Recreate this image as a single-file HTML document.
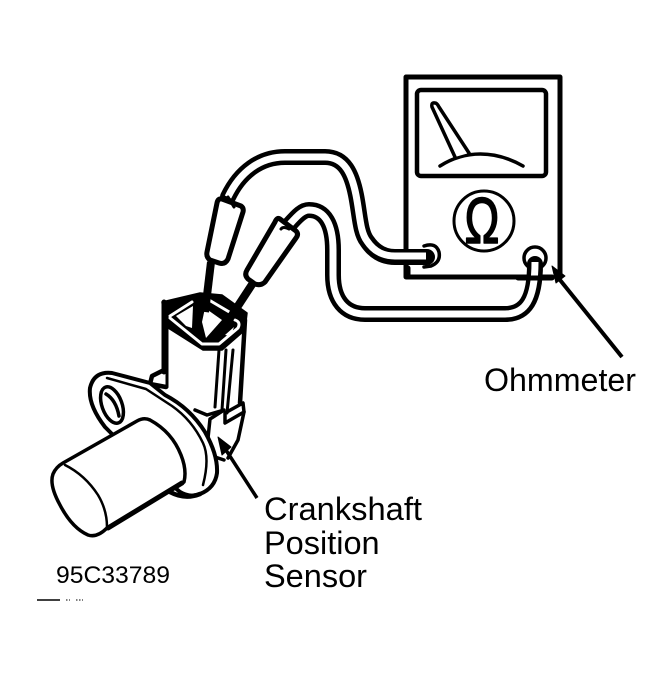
<!DOCTYPE html>
<html>
<head>
<meta charset="utf-8">
<style>
html,body{margin:0;padding:0;background:#fff;width:672px;height:676px;overflow:hidden}
svg{display:block}
text{font-family:"Liberation Sans",sans-serif;fill:#000}
</style>
</head>
<body>
<svg width="672" height="676" viewBox="0 0 672 676" xmlns="http://www.w3.org/2000/svg" fill="none" stroke="#000" stroke-linecap="round" stroke-linejoin="round">
  <!-- Meter -->
  <path d="M552 277H406V77H560V273" stroke-width="5"/>
  <rect x="417" y="90" width="129" height="86" rx="4" stroke-width="4.5"/>
  <path d="M440 166C465 150 495 150 523 166" stroke-width="3.5"/>
  <path d="M455 157L432 107Q431 102 435 103Q437 103 439 107L469 153" stroke-width="3.5" fill="#fff"/>
  <circle cx="484" cy="221" r="30" stroke-width="3"/>
  <text transform="translate(482 243) scale(.72 1)" x="0" y="0" font-size="65" text-anchor="middle" stroke="#000" stroke-width="1.6">Ω</text>

  <!-- Terminals (drawn below wires) -->
  <path d="M424 246Q436 242 439 252Q441 262 431 266L424 267" fill="#fff" stroke-width="3.5"/>
  <circle cx="535" cy="258" r="11" fill="#fff" stroke-width="3.5"/>

  <!-- Wire 1 -->
  <path d="M228 197C240 172 260 157 285 157H325C345 157 352 175 356 195C360 215 360 232 367 241C375 253 385 257 395 257H427" stroke-width="16"/>
  <path d="M228 197C240 172 260 157 285 157H325C345 157 352 175 356 195C360 215 360 232 367 241C375 253 385 256 395 256H426" stroke="#fff" stroke-width="7" stroke-linecap="butt"/>
  <!-- Wire 2 -->
  <path d="M290 224C298 215 303 210 309 210C325 210 333 225 333 250V275C333 300 345 314 365 314H505C525 314 535 300 535 264" stroke-width="16"/>
  <path d="M290 224C298 215 303 210 309 210C325 210 333 225 333 250V275C333 300 345 314 365 314H505C525 314 535 300 535 262" stroke="#fff" stroke-width="7" stroke-linecap="butt"/>
  <path d="M408 277V268" stroke-width="5"/>
  <path d="M518 278H552" stroke-width="5"/>

  <!-- Sensor body -->
  <path d="M162 302L200 292L222 295L247 313L243 413L240 437L226 458L197 423L163 395Z" fill="#fff" stroke="none"/>
  <path d="M164 372V302" stroke-width="5"/>
  <path d="M164 370L152 376L150 384L166 387" stroke-width="4.5"/>
  <path d="M167 327V387" stroke-width="3"/>

  <!-- Ribs and clip -->
  <path d="M219 350L215 407M226 350L222 410M233 350L227 413" stroke-width="3"/>
  <path d="M245 320L240 403" stroke-width="4.5"/>
  <path d="M195 410L207 415L224 410L210 419L208 438L215 457L224 460" stroke-width="3.5"/>
  <path d="M225 413L243 403L244 412L225 423Z" stroke-width="3.5"/>
  <path d="M244 412L238 440L228 458" stroke-width="3.5"/>

  <!-- Connector mouth -->
  <path d="M162 302L200 293L222 295L247 313L245 330L222 350L203 350L165 326Z" fill="#000" stroke="#000" stroke-width="1.5"/>
  <g stroke="#fff" stroke-width="3">
    <path d="M170 316L192 302"/>
    <path d="M170 318L202 344H219L238 328Q241 322 235 320"/>
    <path d="M209 300L231 313"/>
  </g>
  <g fill="#fff" stroke="none">
    <path d="M176 316L193 306L192 328L186 326Z"/>
    <path d="M205 308L222 320L206 338L202 322Z"/>
    <path d="M225 335L234 327L231 336Z"/>
  </g>

  <!-- Flange -->
  <path d="M150 383L112 373Q94 371 90 388Q88 405 105 427L112 434L180 492Q190 498 200 494Q215 488 217 473Q218 455 205 432Q190 408 165 395Z" fill="#fff" stroke-width="4"/>
  <path d="M107 378L146 389L172 406Q192 420 203 443Q210 458 203 485" stroke-width="2.5"/>
  <ellipse cx="112" cy="405" rx="10" ry="19" transform="rotate(-20 112 405)" fill="#fff" stroke-width="3.5"/>
  <path d="M106 394Q116 400 119 416" stroke-width="3.5"/>

  <!-- Cylinder -->
  <path d="M63 463L137 421Q144 417 150 420Q172 432 181 455Q187 470 184 482L107 528Q97 538 88 535Q72 528 60 505Q49 485 53 474Q56 467 63 463Z" fill="#fff" stroke-width="3.5"/>
  <path d="M65 465Q85 475 98 495Q107 510 107 527" stroke-width="2.5"/>
  <path d="M108 528L182 483" stroke-width="5"/>
  <path d="M170 492Q185 500 200 494" stroke-width="4.5"/>

  <!-- Probes -->
  <path d="M211 262L205 312" stroke-width="8" stroke-linecap="butt"/>
  <path d="M253 283L217 338" stroke-width="8" stroke-linecap="butt"/>
  <path d="M222 199L241 206Q244 208 243 212L228 259Q225 265 219 263L210 260Q206 257 207 252L217 203Q218 198 222 199Z" fill="#fff" stroke-width="5"/>
  <path d="M280 219L296 231Q299 234 296 238L265 282Q261 286 255 284L248 279Q244 275 247 270L275 222Q277 217 280 219Z" fill="#fff" stroke-width="5"/>
  <path d="M228 197L234 207M289 229Q283 226 281 229" stroke-width="3"/>

  <!-- Leaders -->
  <path d="M622 357L556 275" stroke-width="4" stroke-linecap="butt"/>
  <path d="M552 266L565 276L556 283Z" fill="#000" stroke-width="1"/>
  <path d="M257 498L224 447" stroke-width="3.5" stroke-linecap="butt"/>
  <path d="M218 437L231 447L222 455Z" fill="#000" stroke-width="1"/>
  <path d="M37 600H60" stroke-width="1.5" stroke-linecap="butt"/>
  <path d="M66 600H70M76 600H83" stroke-width="1" stroke-dasharray="1.5 1.5" stroke-linecap="butt"/>

  <!-- Labels -->
  <g stroke="none">
    <text x="484" y="391" font-size="32" textLength="152" lengthAdjust="spacingAndGlyphs">Ohmmeter</text>
    <text x="264" y="520" font-size="32.5" textLength="158" lengthAdjust="spacingAndGlyphs">Crankshaft</text>
    <text x="264" y="554" font-size="32.5">Position</text>
    <text x="264" y="587" font-size="32.5">Sensor</text>
    <text x="56" y="583" font-size="24.5" textLength="114" lengthAdjust="spacingAndGlyphs">95C33789</text>
  </g>
</svg>
</body>
</html>
